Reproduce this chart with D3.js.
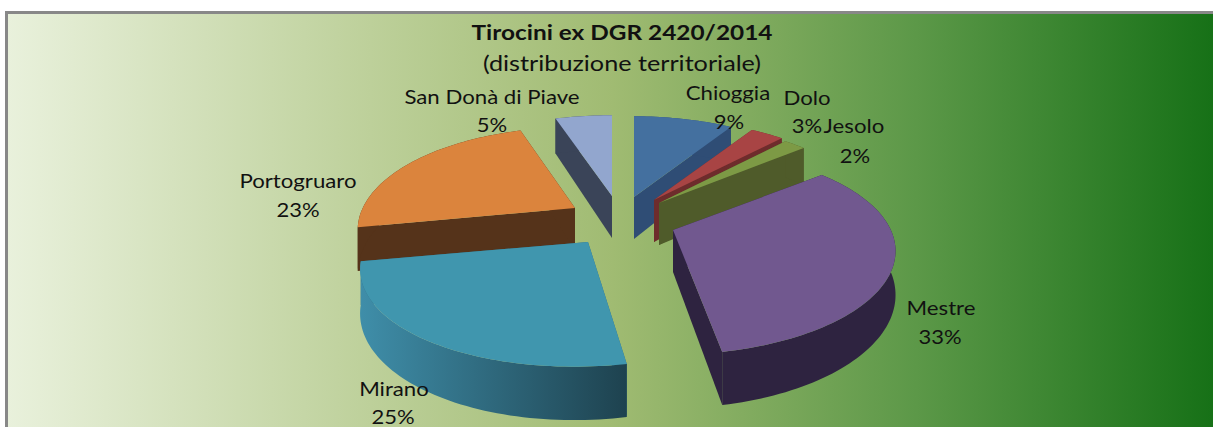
<!DOCTYPE html>
<html>
<head>
<meta charset="utf-8">
<script src="https://cdn.jsdelivr.net/npm/d3@7"></script>
<style>
html, body { margin: 0; padding: 0; background: #fff; }
svg { display: block; }
text { font-family: Lato, "Open Sans", sans-serif; fill: #111; }
</style>
</head>
<body>
<div id="chart"></div>
<script>
var categories = ['Chioggia', 'Dolo', 'Jesolo', 'Mestre', 'Mirano', 'Portogruaro', 'San Donà di Piave'];
var values = [9, 3, 2, 33, 25, 23, 5];

var titleText = 'Tirocini ex DGR 2420/2014';
var subtitleText = '(distribuzione territoriale)';

var width = 1213, height = 427;

// slice look: top face, wall, and where each exploded slice sits around the pie centre
var topColors = ['#44709f', '#a84444', '#7d9a45', '#71588f', '#4096ae', '#db843d', '#92a6ce'];
var wallColors = ['#2f4d75', '#6e2c2c', '#4f5b2a', '#2e2340', '#2f6c82', '#55331a', '#3a4458'];
var explode = [[34, -28], [54, -25], [59, -22], [73, 5], [-12, 17], [-25, -17], [12, -29]];
// small per slice corrections, the original has real perspective
var radiusScale = [0.97, 0.98, 0.97, 0.99, 1, 0.965, 1];
var lean = [0, 0, 0, -0.02, -0.11, 0, 0];
var labelPos = [[728, 100], [807, 105], [854, 133], [941, 315], [394, 396], [298, 188], [492, 104]];
var pctPos = [[729, 129], [807, 133], [855, 163], [940, 344], [393, 424], [298, 217], [492, 132]];
var drawOrder = [0, 6, 1, 2, 5, 3, 4];

var cx = 600, cy = 225;
var rx = 220, ry = 98, persp = 0.214, depth = 42;

var svg = d3.select('#chart').append('svg')
    .attr('width', width)
    .attr('height', height);

var defs = svg.append('defs');

var bg = defs.append('linearGradient').attr('id', 'bg');
[[0, '#e9f1dc'], [0.3, '#bdd09a'], [0.5, '#a0bb72'], [0.75, '#5c9848'], [1, '#157016']].forEach(function(s) {
    bg.append('stop').attr('offset', s[0]).attr('stop-color', s[1]);
});

// the Mirano wall goes darker towards its right end
var miranoWall = defs.append('linearGradient').attr('id', 'miranoWall');
miranoWall.append('stop').attr('offset', 0).attr('stop-color', '#3f8ea9');
miranoWall.append('stop').attr('offset', 1).attr('stop-color', '#1e424f');

// frame and background
svg.append('rect')
    .attr('x', 6.5).attr('y', 12.5)
    .attr('width', width).attr('height', height)
    .attr('fill', 'url(#bg)')
    .attr('stroke', '#888')
    .attr('stroke-width', 3);

var angle = d3.scaleLinear().domain([0, 100]).range([0, 2 * Math.PI]);

var arcs = d3.pie().sort(null).value(function(d) { return d; })
    .startAngle(0).endAngle(angle(100))(values);

// angle on the pie -> screen offset from the slice apex, with some perspective
function project(a, i) {
    var w = 1 + persp * Math.cos(a);
    var y = -ry * Math.cos(a) / w;
    return [rx * radiusScale[i] * Math.sin(a) / w + lean[i] * y, y, depth / w];
}

var line = d3.line();

function rimPoints(i, ox, oy, lower) {
    var d = arcs[i];
    var n = Math.max(4, Math.round((d.endAngle - d.startAngle) * 40));
    return d3.range(n + 1).map(function(k) {
        var p = project(d.startAngle + (d.endAngle - d.startAngle) * k / n, i);
        return [ox + p[0], oy + p[1] + (lower ? p[2] : 0)];
    });
}

function drawSlice(i) {
    var ox = cx + explode[i][0], oy = cy + explode[i][1];
    var g = svg.append('g').attr('class', 'slice');
    var top = rimPoints(i, ox, oy, false);
    var bottom = rimPoints(i, ox, oy, true);
    var wallFill = categories[i] === 'Mirano' ? 'url(#miranoWall)' : wallColors[i];

    // the two cut faces
    [top[0], top[top.length - 1]].forEach(function(p, k) {
        var q = k === 0 ? bottom[0] : bottom[bottom.length - 1];
        g.append('path')
            .attr('d', line([[ox, oy], p, q, [ox, oy + depth]]) + 'Z')
            .attr('fill', wallColors[i]);
    });
    // outer wall
    g.append('path')
        .attr('d', line(top.concat(bottom.slice().reverse())) + 'Z')
        .attr('fill', wallFill);
    // top face
    g.append('path')
        .attr('d', line([[ox, oy]].concat(top)) + 'Z')
        .attr('fill', topColors[i]);
}

drawOrder.forEach(drawSlice);

// the reference text is stretched sideways, so widen it the same way
function addText(x, y, str, size, stretch, weight) {
    var t = svg.append('text')
        .attr('x', x).attr('y', y)
        .attr('text-anchor', 'middle')
        .attr('font-size', size)
        .attr('font-weight', weight || 400)
        .text(str);
    t.attr('textLength', t.node().getComputedTextLength() * stretch)
        .attr('lengthAdjust', 'spacingAndGlyphs');
}

// title
addText(622, 40, titleText, 21, 1.16, 700);
addText(622, 71, subtitleText, 21, 1.2);

// data labels
categories.forEach(function(name, i) {
    addText(labelPos[i][0], labelPos[i][1], name, 20, 1.11);
    addText(pctPos[i][0], pctPos[i][1], values[i] + '%', 20, 1.1);
});
</script>
</body>
</html>
